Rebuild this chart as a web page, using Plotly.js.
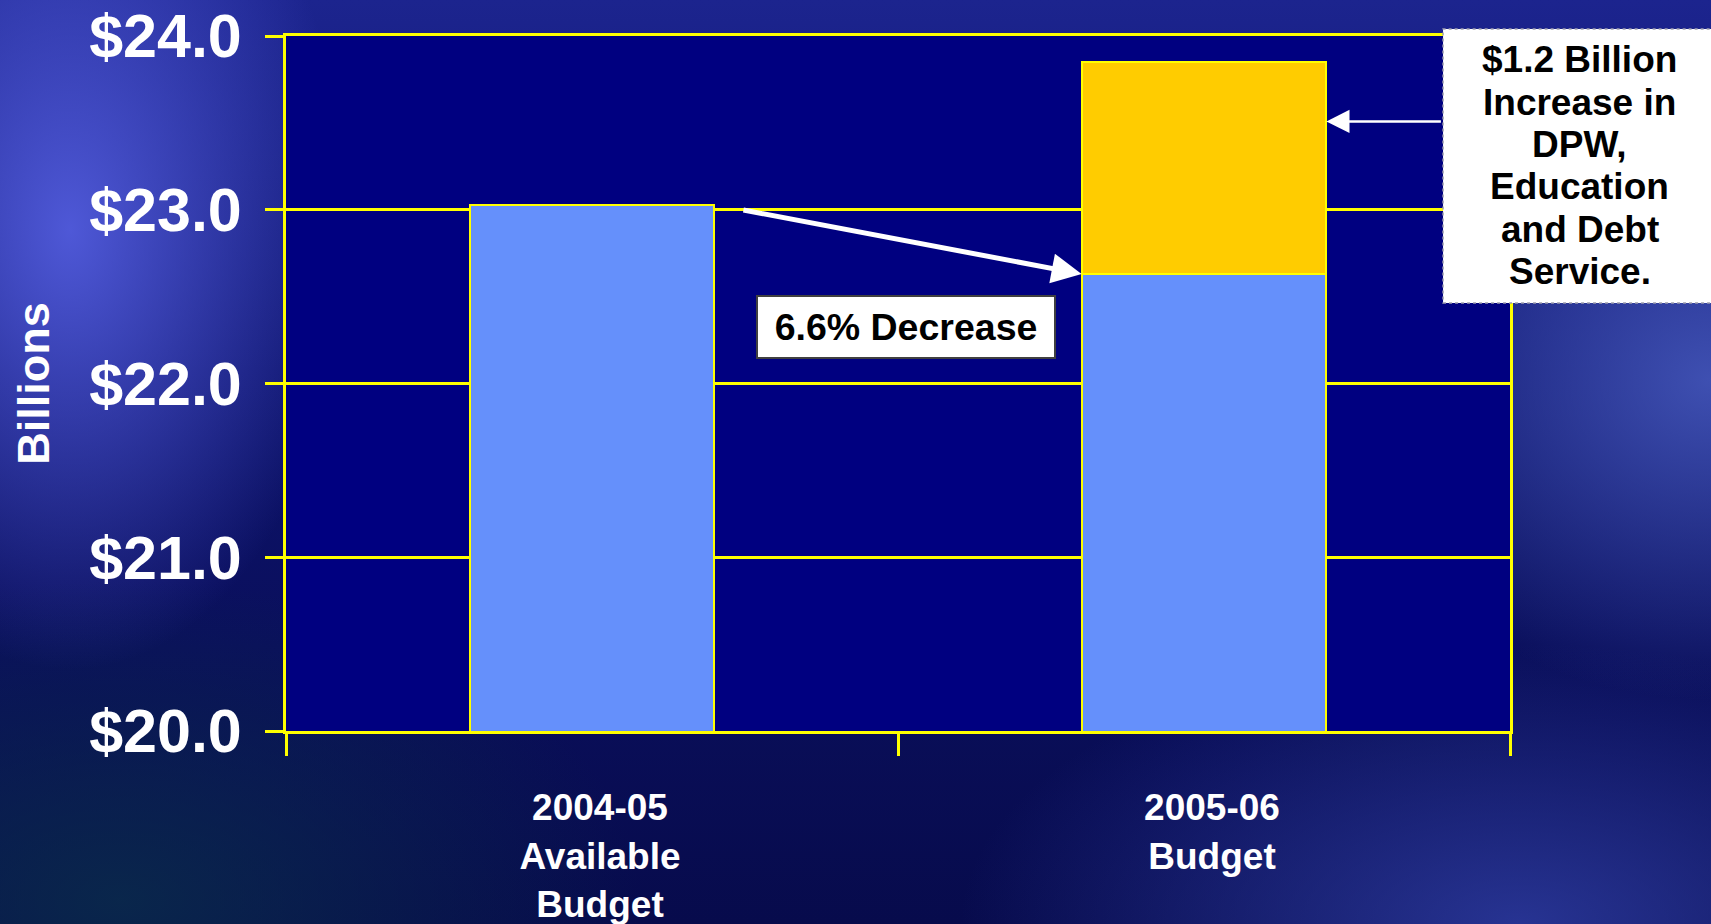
<!DOCTYPE html>
<html>
<head>
<meta charset="utf-8">
<script src="https://cdn.plot.ly/plotly-3.0.1.min.js"></script>
<style>
  html, body { margin: 0; padding: 0; }
  body {
    width: 1711px; height: 924px; overflow: hidden;
    background:
      radial-gradient(ellipse 280px 440px at 70px 230px, rgba(85,95,225,0.9), rgba(85,95,225,0) 100%),
      radial-gradient(ellipse 380px 320px at 1711px 380px, rgba(75,95,195,0.8), rgba(75,95,195,0) 100%),
      radial-gradient(ellipse 560px 280px at 1520px 924px, rgba(50,65,170,0.75), rgba(50,65,170,0) 100%),
      radial-gradient(ellipse 520px 320px at 120px 900px, rgba(10,45,75,0.8), rgba(10,45,75,0) 100%),
      linear-gradient(180deg, #1c248e 0%, #0d136c 40%, #070b4c 100%);
  }
  #chart { width: 1711px; height: 924px; }
</style>
</head>
<body>
<div id="chart"></div>
<script>
// ---- data ----
const categories = ["2004-05 Available Budget", "2005-06 Budget"];
const tickLabels = ["2004-05<br>Available<br>Budget", "2005-06<br>Budget"];
const baseValues = [23.03, 22.63];      // billions
const increaseValues = [0, 1.22];      // billions (DPW, Education, Debt Service)
const yTickValues = [20, 21, 22, 23, 24];
const decreaseLabel = "6.6% Decrease";
const increaseLines = ["$1.2 Billion", "Increase in", "DPW,", "Education", "and Debt", "Service."];

const BAR_WIDTH = 0.4;
const FONT = "Liberation Sans, Arial, sans-serif";
const YELLOW = "#FFFF00";

const traces = [
  {
    type: "bar", x: categories, y: baseValues, width: BAR_WIDTH,
    marker: { color: "#6590FB", line: { color: YELLOW, width: 2 } },
    hoverinfo: "skip"
  },
  {
    type: "bar", x: categories, y: increaseValues, width: BAR_WIDTH,
    marker: { color: "#FFCC00", line: { color: YELLOW, width: 2 } },
    hoverinfo: "skip"
  }
];

// callout text lines, stacked with the reference's tight line spacing
const calloutTopPx = 60, calloutStepPx = 42.3, plotTop = 36, plotH = 695;
const calloutAnnotations = increaseLines.map((line, i) => ({
  x: 1.057, y: 1 - (calloutTopPx + i * calloutStepPx - plotTop) / plotH,
  xref: "paper", yref: "paper", xanchor: "center", yanchor: "middle",
  text: line, showarrow: false,
  font: { family: FONT, size: 37, color: "#000000", weight: 700 }
}));

const layout = {
  width: 1711, height: 924,
  margin: { l: 286, r: 201, t: 36, b: 193 },
  paper_bgcolor: "rgba(0,0,0,0)",
  plot_bgcolor: "#000080",
  barmode: "stack",
  showlegend: false,
  font: { family: FONT, color: "#FFFFFF" },
  xaxis: {
    type: "category",
    range: [-0.5, 1.5],
    tickmode: "array", tickvals: categories, ticktext: tickLabels,
    tickson: "boundaries",
    ticks: "outside", ticklen: 22, tickwidth: 3, tickcolor: YELLOW,
    showline: true, linecolor: YELLOW, linewidth: 3, mirror: true,
    showgrid: false, zeroline: false,
    tickfont: { family: FONT, size: 37, color: "#FFFFFF", weight: 700 },
    ticklabelstandoff: 42,
    ticklabelshift: 8
  },
  yaxis: {
    range: [20, 24],
    tickmode: "array", tickvals: yTickValues,
    ticktext: yTickValues.map(v => "$" + v.toFixed(1)),
    ticks: "outside", ticklen: 18, tickwidth: 3, tickcolor: YELLOW,
    showline: true, linecolor: YELLOW, linewidth: 3, mirror: true,
    showgrid: true, gridcolor: YELLOW, gridwidth: 3,
    zeroline: false,
    tickfont: { family: FONT, size: 61, color: "#FFFFFF", weight: 700 },
    ticklabelstandoff: 11,
    title: { text: "Billions", font: { family: FONT, size: 45, color: "#FFFFFF", weight: 700 }, standoff: 26 }
  },
  shapes: [
    {
      type: "rect", xref: "paper", yref: "paper",
      x0: 0.9453, x1: 1.18, y0: 0.6158, y1: 1.0101,
      fillcolor: "#FFFFFF", line: { color: "#A0A0B0", width: 1.5, dash: "dot" },
      layer: "above"
    }
  ],
  annotations: [
    // arrow from first bar to the second bar's base
    {
      x: 1 - BAR_WIDTH / 2, y: baseValues[1], xref: "x", yref: "y",
      ax: BAR_WIDTH / 2 + 0.045, ay: baseValues[0] - 0.03, axref: "x", ayref: "y",
      text: "", showarrow: true, arrowhead: 2, arrowsize: 1.2, arrowwidth: 5, arrowcolor: "#FFFFFF",
      standoff: 0
    },
    // arrow from the callout to the increase segment
    {
      x: 1 + BAR_WIDTH / 2, y: baseValues[1] + increaseValues[1] * 0.72, xref: "x", yref: "y",
      ax: 116, ay: 0,
      text: "", showarrow: true, arrowhead: 2, arrowsize: 1.85, arrowwidth: 2.5, arrowcolor: "#FFFFFF",
      standoff: 0
    },
    {
      x: 0.5065, y: 0.5806, xref: "paper", yref: "paper",
      xanchor: "center", yanchor: "middle",
      text: decreaseLabel, showarrow: false,
      font: { family: FONT, size: 37.5, color: "#000000", weight: 700 },
      bgcolor: "#FFFFFF", bordercolor: "#404040", borderwidth: 2,
      width: 296, height: 60, borderpad: 0
    }
  ].concat(calloutAnnotations)
};

Plotly.newPlot("chart", traces, layout, { displayModeBar: false, staticPlot: true });
</script>
</body>
</html>
